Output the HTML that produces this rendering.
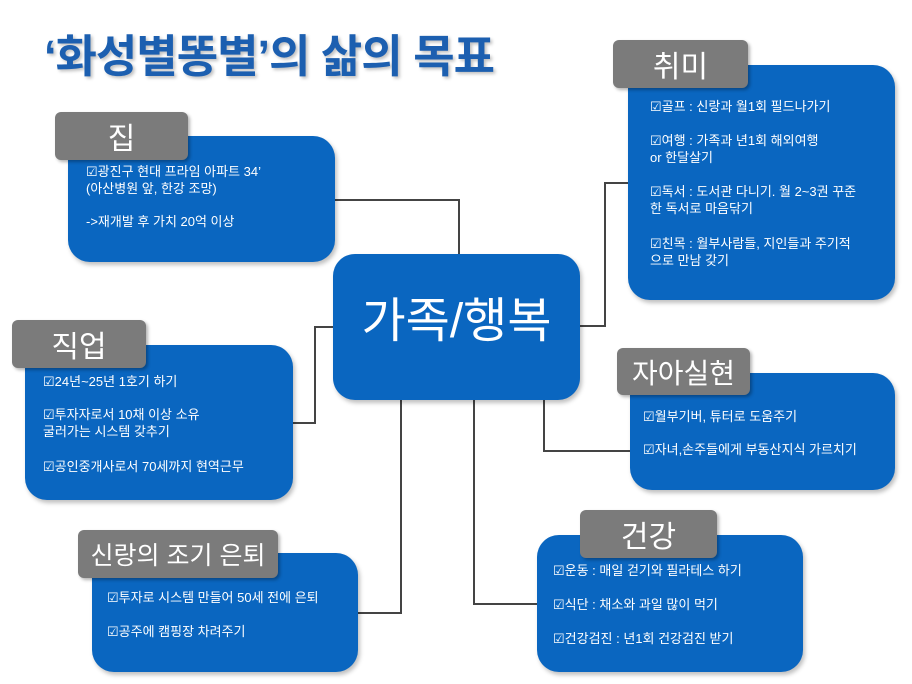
<!DOCTYPE html>
<html><head><meta charset="utf-8"><style>
body{margin:0;width:912px;height:684px;background:#fff;position:relative;overflow:hidden;font-family:"Liberation Sans","Noto Sans CJK KR",sans-serif;}
.b{position:absolute;background:#0a66c0;border-radius:22px;box-shadow:2px 3px 4px rgba(0,0,0,.25);}
.g{position:absolute;background:#7b7b7b;color:#fff;font-size:30px;display:flex;align-items:center;justify-content:center;border-radius:6px;box-shadow:2px 2px 3px rgba(0,0,0,.3);}
.t{position:absolute;color:#fff;font-size:13px;line-height:17px;white-space:nowrap;}
.l{position:absolute;background:#444;}
</style></head><body>
<div style="position:absolute;left:44px;top:20px;font-size:45px;font-weight:bold;color:#1c5fb0;text-shadow:2px 2px 3px rgba(0,0,0,.25);letter-spacing:-1px">‘화성별똥별’의 삶의 목표</div>

<div class="l" style="left:335px;top:199px;width:125px;height:2px"></div>
<div class="l" style="left:458px;top:199px;width:2px;height:57px"></div>
<div class="l" style="left:578px;top:325px;width:28px;height:2px"></div>
<div class="l" style="left:604px;top:182px;width:2px;height:145px"></div>
<div class="l" style="left:604px;top:182px;width:26px;height:2px"></div>
<div class="l" style="left:293px;top:422px;width:23px;height:2px"></div>
<div class="l" style="left:314px;top:326px;width:2px;height:98px"></div>
<div class="l" style="left:314px;top:326px;width:22px;height:2px"></div>
<div class="l" style="left:356px;top:612px;width:46px;height:2px"></div>
<div class="l" style="left:400px;top:398px;width:2px;height:216px"></div>
<div class="l" style="left:473px;top:398px;width:2px;height:207px"></div>
<div class="l" style="left:473px;top:603px;width:66px;height:2px"></div>
<div class="l" style="left:543px;top:398px;width:2px;height:54px"></div>
<div class="l" style="left:543px;top:450px;width:89px;height:2px"></div>

<div class="b" style="left:333px;top:254px;width:247px;height:146px"></div>
<div class="t" style="left:333px;top:293px;width:247px;text-align:center;font-size:48px;line-height:58px">가족/행복</div>

<div class="b" style="left:68px;top:136px;width:267px;height:126px"></div>
<div class="g" style="left:55px;top:112px;width:133px;height:48px">집</div>
<div class="t" style="left:86px;top:163px">☑광진구 현대 프라임 아파트 34’<br>(아산병원 앞, 한강 조망)</div>
<div class="t" style="left:86px;top:213px">->재개발 후 가치 20억 이상</div>

<div class="b" style="left:628px;top:65px;width:267px;height:235px"></div>
<div class="g" style="left:613px;top:40px;width:135px;height:48px">취미</div>
<div class="t" style="left:650px;top:98px">☑골프 : 신랑과 월1회 필드나가기</div>
<div class="t" style="left:650px;top:132px">☑여행 : 가족과 년1회 해외여행<br>or 한달살기</div>
<div class="t" style="left:650px;top:183px">☑독서 : 도서관 다니기. 월 2~3권 꾸준<br>한 독서로 마음닦기</div>
<div class="t" style="left:650px;top:235px">☑친목 : 월부사람들, 지인들과 주기적<br>으로 만남 갖기</div>

<div class="b" style="left:25px;top:345px;width:268px;height:155px"></div>
<div class="g" style="left:12px;top:320px;width:134px;height:48px">직업</div>
<div class="t" style="left:43px;top:373px">☑24년~25년 1호기 하기</div>
<div class="t" style="left:43px;top:406px">☑투자자로서 10채 이상 소유<br>굴러가는 시스템 갖추기</div>
<div class="t" style="left:43px;top:458px">☑공인중개사로서 70세까지 현역근무</div>

<div class="b" style="left:630px;top:373px;width:265px;height:117px"></div>
<div class="g" style="left:617px;top:348px;width:133px;height:47px;font-size:28px">자아실현</div>
<div class="t" style="left:643px;top:408px">☑월부기버, 튜터로 도움주기</div>
<div class="t" style="left:643px;top:441px">☑자녀,손주들에게 부동산지식 가르치기</div>

<div class="b" style="left:92px;top:553px;width:266px;height:119px"></div>
<div class="g" style="left:78px;top:530px;width:200px;height:48px;font-size:25px">신랑의 조기 은퇴</div>
<div class="t" style="left:107px;top:589px">☑투자로 시스템 만들어 50세 전에 은퇴</div>
<div class="t" style="left:107px;top:623px">☑공주에 캠핑장 차려주기</div>

<div class="b" style="left:537px;top:535px;width:266px;height:137px"></div>
<div class="g" style="left:580px;top:510px;width:137px;height:48px">건강</div>
<div class="t" style="left:553px;top:562px">☑운동 : 매일 걷기와 필라테스 하기</div>
<div class="t" style="left:553px;top:596px">☑식단 : 채소와 과일 많이 먹기</div>
<div class="t" style="left:553px;top:630px">☑건강검진 : 년1회 건강검진 받기</div>
</body></html>
